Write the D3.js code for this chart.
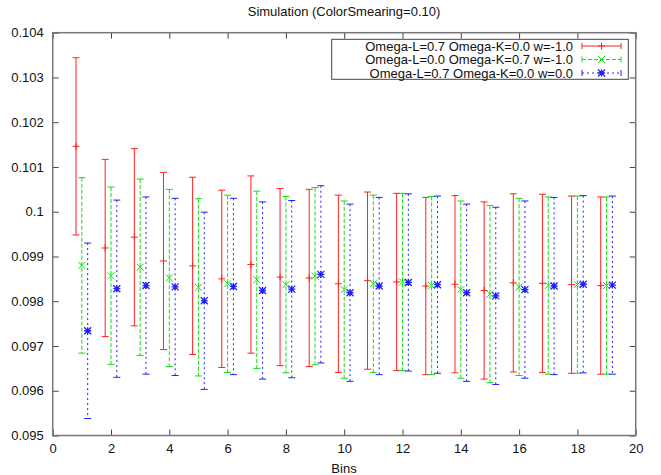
<!DOCTYPE html>
<html><head><meta charset="utf-8">
<script src="https://cdn.jsdelivr.net/npm/d3@7"></script>
<style>
body{margin:0;background:#fff;}
svg{display:block;font-family:"Liberation Sans",Arial,sans-serif;}
</style></head>
<body><svg id="c" width="661" height="475"></svg>
<script>
const title = "Simulation (ColorSmearing=0.10)";
const xLabel = "Bins";
const bins = [1,2,3,4,5,6,7,8,9,10,11,12,13,14,15,16,17,18,19];
const xTicks = [0,2,4,6,8,10,12,14,16,18,20];
const yTicks = [0.095,0.096,0.097,0.098,0.099,0.100,0.101,0.102,0.103,0.104];

const seriesNames = [
  "Omega-L=0.7 Omega-K=0.0 w=-1.0",
  "Omega-L=0.0 Omega-K=0.7 w=-1.0",
  "Omega-L=0.7 Omega-K=0.0 w=0.0"
];
const redVal = [0.10146,0.09919,0.09943,0.09890,0.09879,0.09850,0.09882,0.09854,0.09852,0.09839,0.09846,0.09843,0.09834,0.09838,0.09824,0.09841,0.09840,0.09837,0.09835];
const redErr = [0.00198,0.00198,0.00198,0.00198,0.00198,0.00198,0.00198,0.00198,0.00198,0.00198,0.00198,0.00198,0.00198,0.00198,0.00198,0.00199,0.00199,0.00198,0.00198];
const greenVal = [0.09880,0.09857,0.09876,0.09852,0.09831,0.09839,0.09848,0.09837,0.09856,0.09826,0.09839,0.09843,0.09835,0.09826,0.09816,0.09832,0.09835,0.09837,0.09835];
const greenErr = [0.00196,0.00198,0.00197,0.00198,0.00198,0.00198,0.00198,0.00197,0.00198,0.00198,0.00198,0.00198,0.00199,0.00198,0.00198,0.00198,0.00198,0.00198,0.00198];
const blueVal = [0.09734,0.09828,0.09835,0.09832,0.09801,0.09833,0.09824,0.09827,0.09860,0.09819,0.09834,0.09842,0.09837,0.09819,0.09812,0.09826,0.09834,0.09838,0.09836];
const blueErr = [0.00196,0.00198,0.00198,0.00198,0.00198,0.00197,0.00198,0.00198,0.00198,0.00198,0.00198,0.00198,0.00198,0.00198,0.00198,0.00198,0.00198,0.00198,0.00199];

const series = [
  {name: seriesNames[0], val: redVal, err: redErr, color: "#ff2020", dash: null, off: -0.2, marker: "plus"},
  {name: seriesNames[1], val: greenVal, err: greenErr, color: "#10e010", dash: "4,2", off: 0, marker: "cross"},
  {name: seriesNames[2], val: blueVal, err: blueErr, color: "#2020ff", dash: "2,3", off: 0.2, marker: "star"}
];

const svg = d3.select("#c");
const L = 52.7, R = 635.7, T = 32.7, B = 435.5;
const x = d3.scaleLinear().domain([0,20]).range([L,R]);
const y = d3.scaleLinear().domain([0.095,0.104]).range([B,T]);
const fmt = v => String(+v.toFixed(3));

svg.append("text").attr("x", 344).attr("y", 16).attr("text-anchor","middle")
  .attr("font-size", 13).attr("fill","#111").text(title);

function styleAxis(g){
  g.select(".domain").remove();
  g.selectAll(".tick line").attr("stroke","#444").attr("stroke-width",1);
  g.selectAll(".tick text").attr("fill","#111").attr("font-size",13).attr("font-family","Liberation Sans, Arial, sans-serif");
}
svg.append("g").attr("transform",`translate(0,${B})`)
  .call(d3.axisBottom(x).tickValues(xTicks).tickFormat(d3.format("d")).tickSizeInner(-6).tickSizeOuter(0).tickPadding(8)).call(styleAxis);
svg.append("g").attr("transform",`translate(0,${T})`)
  .call(d3.axisTop(x).tickValues(xTicks).tickFormat("").tickSizeInner(-6).tickSizeOuter(0)).call(styleAxis);
svg.append("g").attr("transform",`translate(${L},0)`)
  .call(d3.axisLeft(y).tickValues(yTicks).tickFormat(fmt).tickSizeInner(-6).tickSizeOuter(0).tickPadding(9)).call(styleAxis);
svg.append("g").attr("transform",`translate(${R},0)`)
  .call(d3.axisRight(y).tickValues(yTicks).tickFormat("").tickSizeInner(-6).tickSizeOuter(0)).call(styleAxis);

svg.append("rect").attr("x",L).attr("y",T).attr("width",R-L).attr("height",B-T)
  .attr("fill","none").attr("stroke","#777").attr("stroke-width",1.5);

svg.append("text").attr("x", 344).attr("y", 473).attr("text-anchor","middle")
  .attr("font-size", 13).attr("fill","#111").text(xLabel);

function drawMarker(g, type, cx, cy, color){
  const s = 3.5;
  const p = g.append("path").attr("stroke",color).attr("stroke-width",1).attr("fill","none");
  let d = "";
  if(type==="plus") d = `M${cx-s},${cy}H${cx+s}M${cx},${cy-s}V${cy+s}`;
  if(type==="cross") d = `M${cx-s},${cy-s}L${cx+s},${cy+s}M${cx-s},${cy+s}L${cx+s},${cy-s}`;
  if(type==="star") d = `M${cx-s},${cy}H${cx+s}M${cx},${cy-s}V${cy+s}M${cx-s},${cy-s}L${cx+s},${cy+s}M${cx-s},${cy+s}L${cx+s},${cy-s}`;
  p.attr("d", d);
  if(type==="star") p.attr("stroke-width",1.3);
}

const cap = 3.5;
series.forEach(s => {
  const g = svg.append("g");
  bins.forEach((b,i) => {
    const cx = x(b + s.off);
    const y1 = y(s.val[i] + s.err[i]), y0 = y(s.val[i] - s.err[i]), yc = y(s.val[i]);
    g.append("line").attr("x1",cx).attr("x2",cx).attr("y1",y1).attr("y2",y0)
      .attr("stroke",s.color).attr("stroke-width",1).attr("stroke-dasharray",s.dash);
    g.append("line").attr("x1",cx-cap).attr("x2",cx+cap).attr("y1",y1).attr("y2",y1).attr("stroke",s.color);
    g.append("line").attr("x1",cx-cap).attr("x2",cx+cap).attr("y1",y0).attr("y2",y0).attr("stroke",s.color);
    drawMarker(g, s.marker, cx, yc, s.color);
  });
});

// legend
const lg = svg.append("g");
lg.append("rect").attr("x",331.7).attr("y",39.3).attr("width",296.6).attr("height",40)
  .attr("fill","#fff").attr("stroke","#444").attr("stroke-width",1);
series.forEach((s,i) => {
  const ly = 46 + i*13.5;
  lg.append("text").attr("x",573).attr("y",ly).attr("dy","0.35em").attr("text-anchor","end")
    .attr("font-size",13).attr("fill","#111").text(s.name);
  lg.append("line").attr("x1",582).attr("x2",621).attr("y1",ly).attr("y2",ly)
    .attr("stroke",s.color).attr("stroke-dasharray",s.dash);
  [582,621].forEach(xx => lg.append("line").attr("x1",xx).attr("x2",xx).attr("y1",ly-3).attr("y2",ly+3).attr("stroke",s.color));
  drawMarker(lg, s.marker, 601.5, ly, s.color);
});
</script></body></html>
